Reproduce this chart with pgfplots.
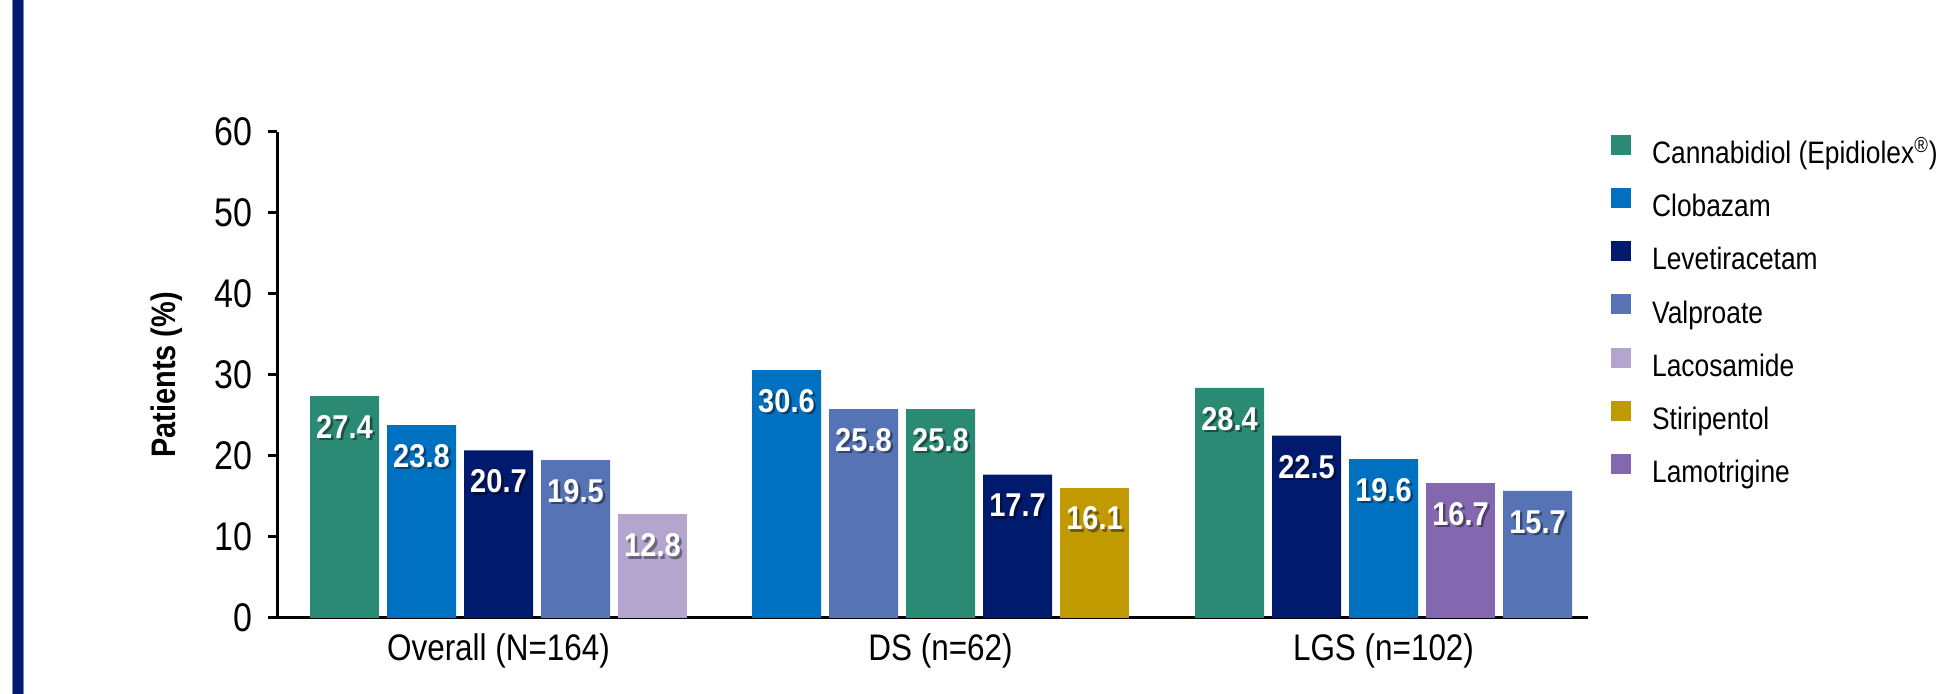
\documentclass[border=0pt]{standalone}
\usepackage{pgfplots}
\pgfplotsset{compat=1.18}
\usepackage{fontspec}
\setmainfont[FakeStretch=0.85]{Liberation Sans}
\newfontfamily\labfont[FakeStretch=0.88]{Liberation Sans}
\definecolor{cbd}{HTML}{2A8A74}
\definecolor{clb}{HTML}{0070C0}
\definecolor{lev}{HTML}{001A6E}
\definecolor{val}{HTML}{5673B5}
\definecolor{lac}{HTML}{B4A5CF}
\definecolor{sti}{HTML}{C09A00}
\definecolor{lam}{HTML}{8468AF}
\definecolor{stripe}{HTML}{001A6E}
\definecolor{stripeedge}{HTML}{6E86C4}
\begin{document}
\begin{tikzpicture}
\useasboundingbox (0,0) rectangle (968.5pt,347pt);
\fill[stripe] (6pt,0) rectangle (12pt,347pt);
\draw[stripeedge, line width=0.4pt] (6.2pt,0) -- (6.2pt,347pt);
\draw[stripeedge, line width=0.4pt] (11.8pt,0) -- (11.8pt,347pt);
\begin{axis}[
  at={(138.5pt,38pt)}, anchor=south west,
  scale only axis, width=655.5pt, height=243pt,
  xmin=277, xmax=1588, ymin=0, ymax=60,
  ybar, bar width=34.5pt,
  axis lines*=left,
  axis line style={line width=1.5pt, black},
  ytick={0,10,20,30,40,50,60},
  xtick={498.5,940.5,1383.5},
  xticklabels={Overall (N=164), DS (n=62), LGS (n=102)},
  xtick style={draw=none},
  ytick style={line width=1.5pt, black},
  tick align=outside,
  major tick length=4.5pt,
  yticklabel style={font=\fontsize{20pt}{24pt}\selectfont, xshift=-4.5pt},
  xticklabel style={font=\fontsize{18.5pt}{22pt}\selectfont},
  /pgf/number format/assume math mode=true,
  ylabel={Patients (\%)},
  ylabel style={font=\bfseries\fontsize{17pt}{20pt}\selectfont, at={(axis description cs:-0.0839,0.5)}, anchor=center},
  legend style={at={(axis description cs:1.0175,0.995)}, anchor=north west, draw=none, fill=none, inner sep=0pt,
    row sep=9.3pt, column sep=10.5pt,
    font=\fontsize{15.5pt}{18pt}\selectfont,
    nodes={inner sep=0pt, text height=11pt, text depth=3pt}},
  legend cell align=left,
  clip=false,
]
% bars
\addplot[fill=cbd, draw=none, bar shift=0pt, forget plot] coordinates {(344.5,27.4) (940.5,25.8) (1229.5,28.4)};
\addplot[fill=clb, draw=none, bar shift=0pt, forget plot] coordinates {(421.5,23.8) (786.5,30.6) (1383.5,19.6)};
\addplot[fill=lev, draw=none, bar shift=0pt, forget plot] coordinates {(498.5,20.7) (1017.5,17.7) (1306.5,22.5)};
\addplot[fill=val, draw=none, bar shift=0pt, forget plot] coordinates {(575.5,19.5) (863.5,25.8) (1537.5,15.7)};
\addplot[fill=lac, draw=none, bar shift=0pt, forget plot] coordinates {(652.5,12.8)};
\addplot[fill=sti, draw=none, bar shift=0pt, forget plot] coordinates {(1094.5,16.1)};
\addplot[fill=lam, draw=none, bar shift=0pt, forget plot] coordinates {(1460.5,16.7)};
% label shadows
\addplot[fill=none, draw=none, bar shift=0pt, forget plot,
  point meta=explicit symbolic, nodes near coords,
  every node near coord/.style={font=\labfont\bfseries\fontsize{16.5pt}{19pt}\selectfont, text=black, text opacity=0.4, anchor=center, xshift=1.2pt, yshift=-16.7pt}]
  coordinates {(344.5,27.4)[27.4] (421.5,23.8)[23.8] (498.5,20.7)[20.7] (575.5,19.5)[19.5] (652.5,12.8)[12.8]
  (786.5,30.6)[30.6] (863.5,25.8)[25.8] (940.5,25.8)[25.8] (1017.5,17.7)[17.7] (1094.5,16.1)[16.1]
  (1229.5,28.4)[28.4] (1306.5,22.5)[22.5] (1383.5,19.6)[19.6] (1460.5,16.7)[16.7] (1537.5,15.7)[15.7]};
% labels
\addplot[fill=none, draw=none, bar shift=0pt, forget plot,
  point meta=explicit symbolic, nodes near coords,
  every node near coord/.style={font=\labfont\bfseries\fontsize{16.5pt}{19pt}\selectfont, text=white, anchor=center, yshift=-15.5pt}]
  coordinates {(344.5,27.4)[27.4] (421.5,23.8)[23.8] (498.5,20.7)[20.7] (575.5,19.5)[19.5] (652.5,12.8)[12.8]
  (786.5,30.6)[30.6] (863.5,25.8)[25.8] (940.5,25.8)[25.8] (1017.5,17.7)[17.7] (1094.5,16.1)[16.1]
  (1229.5,28.4)[28.4] (1306.5,22.5)[22.5] (1383.5,19.6)[19.6] (1460.5,16.7)[16.7] (1537.5,15.7)[15.7]};
% legend
\addlegendimage{legend image code/.code={\fill[cbd] (0pt,0.6pt) rectangle (9.5pt,10.1pt);}}
\addlegendentry{Cannabidiol (Epidiolex\textsuperscript{\textregistered})}
\addlegendimage{legend image code/.code={\fill[clb] (0pt,0.6pt) rectangle (9.5pt,10.1pt);}}
\addlegendentry{Clobazam}
\addlegendimage{legend image code/.code={\fill[lev] (0pt,0.6pt) rectangle (9.5pt,10.1pt);}}
\addlegendentry{Levetiracetam}
\addlegendimage{legend image code/.code={\fill[val] (0pt,0.6pt) rectangle (9.5pt,10.1pt);}}
\addlegendentry{Valproate}
\addlegendimage{legend image code/.code={\fill[lac] (0pt,0.6pt) rectangle (9.5pt,10.1pt);}}
\addlegendentry{Lacosamide}
\addlegendimage{legend image code/.code={\fill[sti] (0pt,0.6pt) rectangle (9.5pt,10.1pt);}}
\addlegendentry{Stiripentol}
\addlegendimage{legend image code/.code={\fill[lam] (0pt,0.6pt) rectangle (9.5pt,10.1pt);}}
\addlegendentry{Lamotrigine}
\end{axis}
\end{tikzpicture}
\end{document}
